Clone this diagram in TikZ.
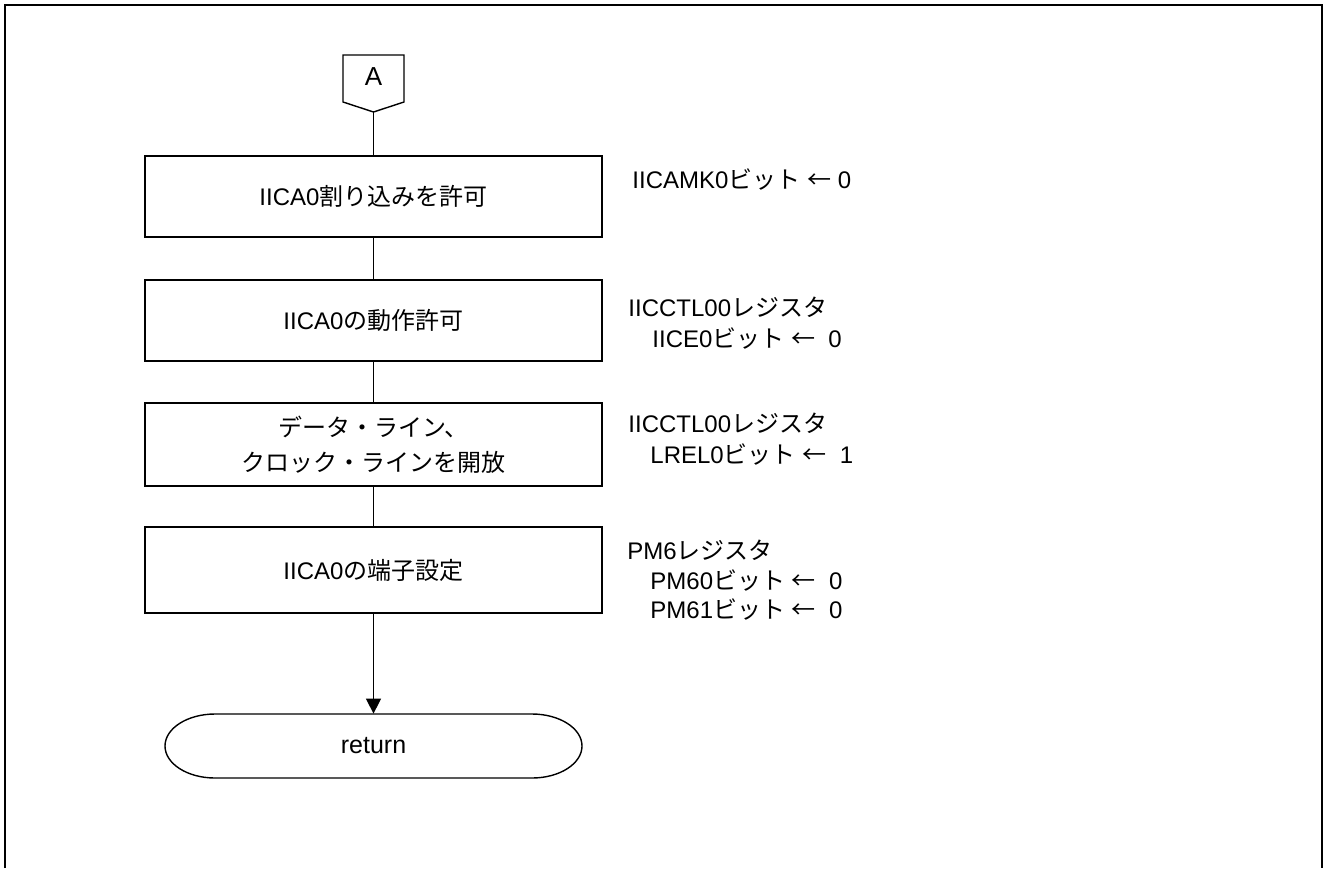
\documentclass[tikz,border=0pt]{standalone}
\usepackage{fontspec}
\setmainfont{Liberation Sans}
\newfontfamily\jp{Noto Sans CJK JP}
\newcommand{\J}[1]{{\jp #1}}
\usetikzlibrary{arrows.meta}
\begin{document}
\begin{tikzpicture}[x=0.5pt,y=-0.5pt, font=\fontsize{12}{15}\selectfont,
  box/.style={draw, line width=0.7pt, minimum width=228.5pt, inner sep=0pt, align=center, font=\fontsize{12}{17.5}\selectfont},
  note/.style={anchor=base west, inner sep=0pt},
  flow/.style={line width=0.7pt},
  frame/.style={line width=0.85pt}]
\useasboundingbox (0,0) rectangle (1325,868);
\draw[frame] (5,868) -- (5,5) -- (1322,5) -- (1322,868);

% off-page connector A
\node[inner sep=0pt, font=\fontsize{13}{15}\selectfont] (A) at (373.5,77) {A};
\draw[flow] (343,55) -- (404,55) -- (404,102) -- (373.5,112) -- (343,102) -- cycle;
\coordinate (Ab) at (373.5,112);

% process boxes
\node[box, minimum height=40.5pt] (b1) at (373.5,196.5) {IICA0\J{割り込みを許可}};
\node[box, minimum height=40.5pt] (b2) at (373.5,320.5) {IICA0\J{の動作許可}};
\node[box, minimum height=41.5pt] (b3) at (373.5,444.5) {\J{データ・ライン、}\\\J{クロック・ラインを開放}};
\node[box, minimum height=43pt] (b4) at (373.5,570) {IICA0\J{の端子設定}};

% terminal
\node[minimum width=208.5pt, minimum height=32pt, inner sep=0pt, font=\fontsize{12.5}{15}\selectfont] (ret) at (373.5,746) {return};
\draw[flow] (215,714) -- (532,714) arc[start angle=90, end angle=-90, x radius=25pt, y radius=16pt]
  -- (215,778) arc[start angle=270, end angle=90, x radius=25pt, y radius=16pt] -- cycle;

% connectors
\draw[flow] (Ab) -- (b1.north);
\draw[flow] (b1.south) -- (b2.north);
\draw[flow] (b2.south) -- (b3.north);
\draw[flow] (b3.south) -- (b4.north);
\draw[flow, -{Triangle[length=7.5pt, width=7.5pt]}] (b4.south) -- (ret.north);

% annotations
\node[note] (n1) at (632,188) {IICAMK0\J{ビット}\ \J{←} 0};
\node[note] (n2a) at (628,316) {IICCTL00\J{レジスタ}};
\node[note] (n2b) at (652,347) {IICE0\J{ビット}\ \J{←}\ \ 0};
\node[note] (n3a) at (628,432) {IICCTL00\J{レジスタ}};
\node[note] (n3b) at (650,463) {LREL0\J{ビット}\ \J{←}\ \ 1};
\node[note] (n4a) at (627,559) {PM6\J{レジスタ}};
\node[note] (n4b) at (650,589) {PM60\J{ビット}\ \J{←}\ \ 0};
\node[note] (n4c) at (650,618) {PM61\J{ビット}\ \J{←}\ \ 0};
\end{tikzpicture}
\end{document}
